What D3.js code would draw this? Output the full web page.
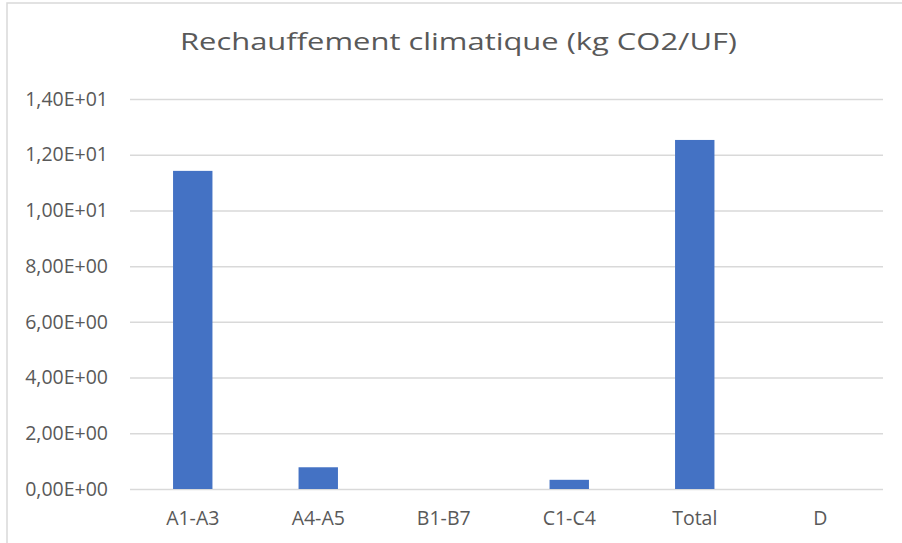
<!DOCTYPE html>
<html><head><meta charset="utf-8">
<script src="https://cdn.jsdelivr.net/npm/d3@7"></script>
<style>body{margin:0;background:#fff}svg{display:block}</style>
</head><body>
<svg id="c" width="902" height="543"></svg>
<script>
const categories = ["A1-A3","A4-A5","B1-B7","C1-C4","Total","D"];
const values = [11.42, 0.78, 0, 0.33, 12.53, 0];
const yTicks = [0,2,4,6,8,10,12,14];
const title = "Rechauffement climatique (kg CO2/UF)";

const svg = d3.select("#c");
const font = "'Open Sans', 'Noto Sans', sans-serif";
// chart border
svg.append("rect").attr("x",7).attr("y",3).attr("width",902).attr("height",560)
  .attr("fill","#fff").attr("stroke","#d9d9d9").attr("stroke-width",1.5);

const x = d3.scaleBand().domain(categories).range([130,883]).paddingInner(0.686).paddingOuter(0.343);
const y = d3.scaleLinear().domain([0,14]).range([489,99]);

const fmt = v => v.toExponential(2).replace(".",",").replace(/e([+-])(\d)$/,"E$10$2").replace(/e([+-])(\d\d)$/,"E$1$2");

const gy = svg.append("g").attr("transform","translate(130,0)")
  .call(d3.axisLeft(y).tickValues(yTicks).tickSize(-753).tickFormat(fmt).tickPadding(22));
gy.select(".domain").remove();
gy.selectAll(".tick line").attr("stroke","#d9d9d9").attr("stroke-width",1.5);
gy.selectAll(".tick text").attr("fill","#595959").style("font-family",font).style("font-size","19.5px");

svg.append("g").selectAll("rect").data(categories).join("rect")
  .attr("x",d=>x(d)).attr("width",x.bandwidth())
  .attr("y",(d,i)=>y(values[i])).attr("height",(d,i)=>y(0)-y(values[i]))
  .attr("fill","#4472c4");

const gx = svg.append("g").attr("transform","translate(0,489)")
  .call(d3.axisBottom(x).tickSize(0).tickPadding(22));
gx.select(".domain").remove();
gx.selectAll(".tick text").attr("fill","#595959").style("font-family",font).style("font-size","19.5px");

svg.append("text").attr("x",458.5).attr("y",50).attr("text-anchor","middle")
  .attr("fill","#595959").style("font-family",font).style("font-size","24px")
  .attr("textLength",557).attr("lengthAdjust","spacingAndGlyphs").text(title);
</script>
</body></html>
